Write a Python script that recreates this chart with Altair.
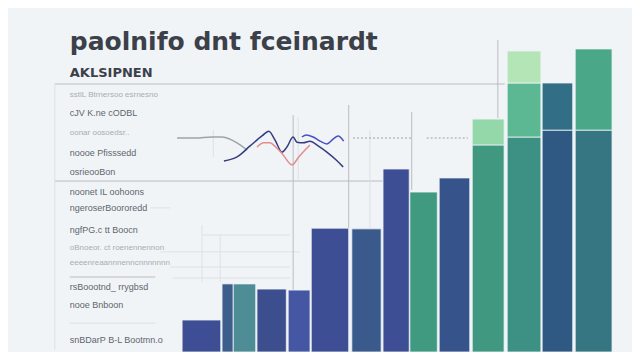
import altair as alt
import pandas as pd

# ---------------- data ----------------
title_text = "paolnifo dnt fceinardt"
subtitle_text = "AKLSIPNEN"

# bars: left/right edges (x units) and lower segment value
bar_x0 = [27.9, 34.3, 36.1, 39.9, 44.9, 48.6, 55.1, 60.1, 64.4, 69.1, 74.4, 80.0, 85.6, 90.9]
bar_x1 = [34.1, 36.1, 39.7, 44.6, 48.4, 54.6, 59.8, 64.3, 68.8, 74.0, 79.5, 85.4, 90.5, 96.8]
bar_val = [9.3, 19.8, 19.8, 18.3, 18.0, 36.0, 35.8, 53.2, 46.5, 50.6, 60.2, 62.5, 64.5, 64.5]
bar_tone = ["indigo", "slate", "teal", "cobalt", "royal", "indigo", "steel", "indigo",
            "jade", "navy", "emerald", "sea", "deep", "ocean"]

# upper stacked segments
seg_bar = [10, 11, 11, 12, 13]
seg_lo = [60.2, 62.5, 78.2, 64.5, 64.5]
seg_hi = [67.7, 78.2, 87.5, 78.2, 88.1]
seg_tone = ["mint", "sage", "pale", "spruce", "grass"]

tone_domain = ["indigo", "slate", "teal", "cobalt", "royal", "steel", "jade", "navy",
               "emerald", "sea", "deep", "ocean", "mint", "sage", "pale", "spruce", "grass"]
tone_range = ["#3e4e94", "#3d5d8c", "#4e8d96", "#3c4e8e", "#4557a2", "#3a5a8c", "#3f9a80",
              "#36548b", "#409880", "#3c9084", "#2f5882", "#357682", "#94d7a8", "#5cb793",
              "#b4e5b6", "#336e87", "#4aa889"]

# line series
s_navy_x = [34.6, 36.7, 38.8, 40.7, 41.8, 42.8, 43.9, 44.7, 45.7, 46.3, 47.3, 48.4, 49.7, 51.1, 52.6, 53.7]
s_navy_y = [55.5, 56.7, 59.9, 62.8, 64.2, 61.6, 58.1, 59.6, 62.5, 61.0, 60.8, 61.3, 59.9, 58.1, 55.8, 53.8]
s_blue_x = [47.1, 47.8, 48.9, 50.0, 51.1, 52.1, 52.9, 53.8]
s_blue_y = [62.5, 63.1, 62.5, 61.3, 60.5, 61.9, 62.8, 61.3]
s_coral_x = [39.9, 41.0, 42.0, 42.9, 44.1, 45.5, 46.6, 47.6, 48.4]
s_coral_y = [59.6, 60.8, 60.8, 59.6, 57.3, 54.4, 56.7, 58.7, 60.2]
s_gray_x = [27.1, 30.0, 32.7, 34.3, 35.9, 37.2, 38.3]
s_gray_y = [62.2, 62.2, 62.5, 62.5, 61.6, 60.2, 58.7]

# grid / frame rules
h_y = [77.9, 49.7, 21.8, 8.4, 34.0, 29.1, 24.7, 21.5, 41.9]
h_x0 = [7.5, 7.5, 9.9, 9.9, 31.2, 24.4, 26.0, 26.4, 22.8]
h_x1 = [79.6, 60.1, 23.6, 23.6, 45.2, 46.8, 45.2, 45.2, 26.0]
h_kind = ["main", "main", "main", "faint", "faint", "faint", "faint", "faint", "faint"]

v_x = [7.5, 45.7, 46.5, 54.6, 58.0, 64.7, 78.5, 31.1, 34.0, 32.9]
v_y0 = [0.6, 0.0, 50.0, 36.0, 36.0, 47.1, 68.0, 20.3, 20.3, 56.7]
v_y1 = [77.9, 68.9, 68.3, 71.8, 64.5, 69.8, 90.7, 36.9, 34.0, 64.5]
v_kind = ["faint", "main", "faint", "main", "faint", "main", "main", "faint", "faint", "faint"]

d_y = [62.2, 62.2]
d_x0 = [55.3, 67.1]
d_x1 = [64.7, 73.7]

# left column labels
dark_labels = ["cJV K.ne  cODBL", "noooe  Pfisssedd", "osrieooBon", "noonet  IL   oohoons",
               "ngeroserBoororedd", "ngfPG.c  tt Boocn", "rsBoootnd_  rrygbsd",
               "nooe  Bnboon", "snBDarP  B-L Bootmn.o"]
dark_label_y = [69.5, 57.8, 52.3, 46.5, 41.9, 35.5, 18.9, 13.7, 3.5]
light_labels = ["sstlL Btrnersoo  esrnesno", "oonar oosoedsr..", "oBnoeor. ct  roenennennon",
                "eeeenreaannnenncnnnnnnn"]
light_label_y = [74.7, 63.7, 30.2, 25.9]
label_x = 9.9

# ---------------- build ----------------
W, H = 624, 344
xs = alt.Scale(domain=[0, 100], range=[0, W], nice=False, zero=False)
ys = alt.Scale(domain=[0, 100], range=[H, 0], nice=False, zero=False)
cs = alt.Scale(domain=tone_domain, range=tone_range)

bars = pd.DataFrame({"x0": bar_x0, "x1": bar_x1, "lo": [0.0] * len(bar_val), "hi": bar_val, "tone": bar_tone})
segs = pd.DataFrame({"x0": [bar_x0[i] for i in seg_bar], "x1": [bar_x1[i] for i in seg_bar],
                     "lo": seg_lo, "hi": seg_hi, "tone": seg_tone})
allbars = pd.concat([bars, segs], ignore_index=True)

bar_layer = alt.Chart(allbars).mark_rect(stroke="#eef3f6", strokeWidth=0.8).encode(
    x=alt.X("x0:Q", scale=xs, axis=None), x2="x1:Q",
    y=alt.Y("lo:Q", scale=ys, axis=None), y2="hi:Q",
    color=alt.Color("tone:N", scale=cs, legend=None),
)

hr = pd.DataFrame({"y": h_y, "x0": h_x0, "x1": h_x1, "kind": h_kind})
vr = pd.DataFrame({"x": v_x, "y0": v_y0, "y1": v_y1, "kind": v_kind})
dr = pd.DataFrame({"y": d_y, "x0": d_x0, "x1": d_x1})
kind_scale = alt.Scale(domain=["main", "faint"], range=["#b9bdc2", "#dde1e5"])

h_layer = alt.Chart(hr).mark_rule(strokeWidth=1).encode(
    x=alt.X("x0:Q", scale=xs, axis=None), x2="x1:Q",
    y=alt.Y("y:Q", scale=ys, axis=None),
    color=alt.Color("kind:N", scale=kind_scale, legend=None),
)
v_layer = alt.Chart(vr).mark_rule(strokeWidth=1).encode(
    x=alt.X("x:Q", scale=xs, axis=None),
    y=alt.Y("y0:Q", scale=ys, axis=None), y2="y1:Q",
    color=alt.Color("kind:N", scale=kind_scale, legend=None),
)
d_layer = alt.Chart(dr).mark_rule(strokeWidth=1, strokeDash=[2, 2], color="#9aa0a6").encode(
    x=alt.X("x0:Q", scale=xs, axis=None), x2="x1:Q",
    y=alt.Y("y:Q", scale=ys, axis=None),
)

lines = pd.concat([
    pd.DataFrame({"x": s_gray_x, "y": s_gray_y, "s": "gray", "o": range(len(s_gray_x))}),
    pd.DataFrame({"x": s_navy_x, "y": s_navy_y, "s": "navy", "o": range(len(s_navy_x))}),
    pd.DataFrame({"x": s_coral_x, "y": s_coral_y, "s": "coral", "o": range(len(s_coral_x))}),
    pd.DataFrame({"x": s_blue_x, "y": s_blue_y, "s": "blue", "o": range(len(s_blue_x))}),
], ignore_index=True)
line_layer = alt.Chart(lines).mark_line(interpolate="monotone", strokeWidth=1.5).encode(
    x=alt.X("x:Q", scale=xs, axis=None),
    y=alt.Y("y:Q", scale=ys, axis=None),
    detail="s:N", order="o:Q",
    stroke=alt.Stroke("s:N", scale=alt.Scale(domain=["gray", "navy", "coral", "blue"],
                                             range=["#9ea3a9", "#353c7e", "#e58c8c", "#4a50c4"]),
                      legend=None),
)

title_df = pd.DataFrame({"x": [label_x], "y": [87.8], "t": [title_text]})
title_layer = alt.Chart(title_df).mark_text(
    align="left", baseline="alphabetic", font="DejaVu Sans", fontSize=25, fontWeight="bold", color="#3b4049"
).encode(x=alt.X("x:Q", scale=xs, axis=None), y=alt.Y("y:Q", scale=ys, axis=None), text="t:N")

sub_df = pd.DataFrame({"x": [label_x], "y": [79.9], "t": [subtitle_text]})
sub_layer = alt.Chart(sub_df).mark_text(
    align="left", baseline="alphabetic", font="DejaVu Sans", fontSize=13, fontWeight="bold", color="#3b4049"
).encode(x=alt.X("x:Q", scale=xs, axis=None), y=alt.Y("y:Q", scale=ys, axis=None), text="t:N")

dl = pd.DataFrame({"x": [label_x] * len(dark_labels), "y": dark_label_y, "t": dark_labels})
dl_layer = alt.Chart(dl).mark_text(
    align="left", baseline="middle", font="Liberation Sans", fontSize=9, color="#60666d"
).encode(x=alt.X("x:Q", scale=xs, axis=None), y=alt.Y("y:Q", scale=ys, axis=None), text="t:N")

ll = pd.DataFrame({"x": [label_x] * len(light_labels), "y": light_label_y, "t": light_labels})
ll_layer = alt.Chart(ll).mark_text(
    align="left", baseline="middle", font="Liberation Sans", fontSize=8, color="#a8adb3"
).encode(x=alt.X("x:Q", scale=xs, axis=None), y=alt.Y("y:Q", scale=ys, axis=None), text="t:N")

chart = alt.layer(
    h_layer, v_layer, d_layer, bar_layer, line_layer, title_layer, sub_layer, dl_layer, ll_layer
).properties(
    width=W, height=H, padding=0, autosize=alt.AutoSizeParams(type="none"),
    background="#f0f4f7",
).configure_view(stroke=None).resolve_scale(color="independent")

chart.save("out.html", embed_options={"renderer": "svg", "actions": False})
